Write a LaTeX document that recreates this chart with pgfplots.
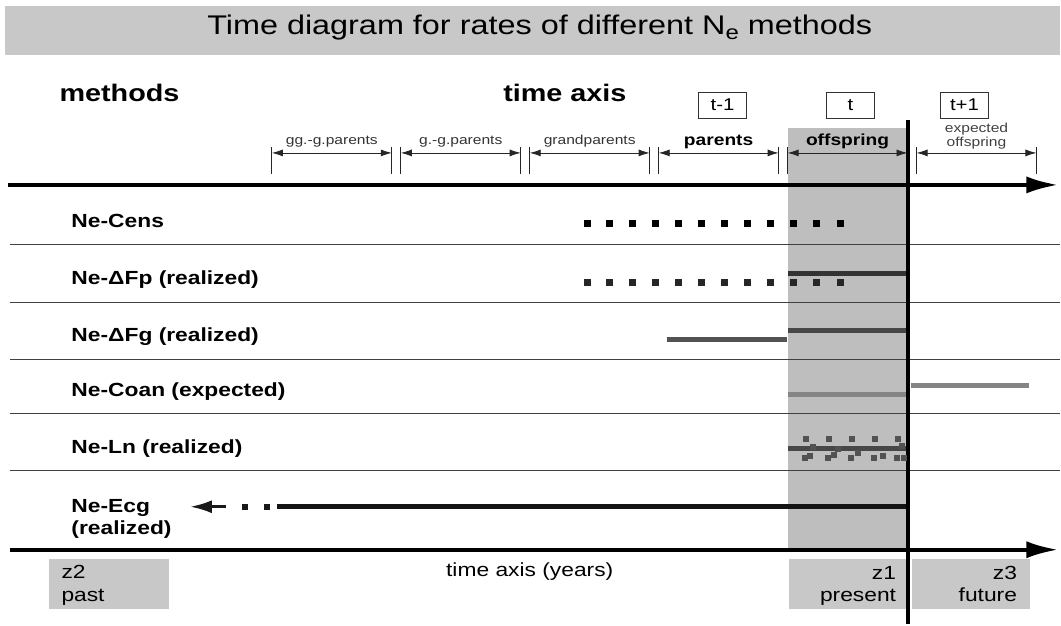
\documentclass[border=0pt]{standalone}
\usepackage{pgfplots}
\pgfplotsset{compat=1.18}
\usepackage{fontspec}
\setmainfont{Liberation Sans}[FakeStretch=1.2]
\usetikzlibrary{arrows.meta}
\definecolor{band}{HTML}{C8C8C8}
\definecolor{offgray}{HTML}{BEBEBE}
\newcommand{\fs}[1]{\fontsize{#1}{#1}\selectfont}
\tikzset{
  gbar/.style={line width=0.8pt, black!85},
  garr/.style={line width=0.8pt, black!85, {Latex[length=11pt,width=7pt]}-{Latex[length=11pt,width=7pt]}},
  tbox/.style={draw=black!80, line width=0.8pt, minimum width=48pt, minimum height=26pt, inner sep=0pt, font=\fs{17}},
  sep/.style={line width=1.1pt, black!75},
  rowlab/.style={anchor=base west, font=\bfseries\fs{19}},
}

\begin{document}
\begin{tikzpicture}
\begin{axis}[
  x=1pt, y=1pt, y dir=reverse,
  xmin=0, xmax=1061, ymin=0, ymax=624,
  scale only axis, hide axis, clip=false,
]
\path (axis cs:0,0) rectangle (axis cs:1061,624);
% title band
\fill[band] (axis cs:5,6) rectangle (axis cs:1061,55);
\node[anchor=base, font=\fs{27}] at (axis cs:540,35)
  {Time diagram for rates of different N\raisebox{-0.35ex}{\fs{20}e} methods};
% present generation shading
\fill[offgray] (axis cs:788,128) rectangle (axis cs:908,550);
% headings
\node[anchor=base west, font=\bfseries\fs{24}] at (axis cs:56,102) {methods};
\node[anchor=base west, font=\bfseries\fs{24}] at (axis cs:500,102) {time axis};
\node[tbox] at (axis cs:723,105) {t-1};
\node[tbox] at (axis cs:851,105) {t};
\node[tbox] at (axis cs:965,105) {t+1};
% generation brackets
\draw[gbar] (axis cs:272,147) -- (axis cs:272,174);
\draw[gbar] (axis cs:392,147) -- (axis cs:392,174);
\draw[garr] (axis cs:272,153) -- (axis cs:392,153);
\draw[gbar] (axis cs:401,147) -- (axis cs:401,174);
\draw[gbar] (axis cs:521,147) -- (axis cs:521,174);
\draw[garr] (axis cs:401,153) -- (axis cs:521,153);
\draw[gbar] (axis cs:530,147) -- (axis cs:530,174);
\draw[gbar] (axis cs:650,147) -- (axis cs:650,174);
\draw[garr] (axis cs:530,153) -- (axis cs:650,153);
\draw[gbar] (axis cs:659,147) -- (axis cs:659,174);
\draw[gbar] (axis cs:779,147) -- (axis cs:779,174);
\draw[garr] (axis cs:659,153) -- (axis cs:779,153);
\draw[gbar] (axis cs:788,147) -- (axis cs:788,174);
\draw[garr] (axis cs:788,153) -- (axis cs:908,153);
\draw[gbar] (axis cs:917,147) -- (axis cs:917,174);
\draw[gbar] (axis cs:1037,147) -- (axis cs:1037,174);
\draw[garr] (axis cs:917,153) -- (axis cs:1037,153);
\node[anchor=base, font=\fs{13}, black!80] at (axis cs:332,145) {gg.-g.parents};
\node[anchor=base, font=\fs{13}, black!80] at (axis cs:461,145) {g.-g.parents};
\node[anchor=base, font=\fs{13}, black!80] at (axis cs:590,145) {grandparents};
\node[anchor=base, font=\bfseries\fs{16}] at (axis cs:719,146) {parents};
\node[anchor=base, font=\bfseries\fs{16}] at (axis cs:848,146) {offspring};
\node[anchor=base, font=\fs{13}, black!75] at (axis cs:977,133) {expected};
\node[anchor=base, font=\fs{13}, black!75] at (axis cs:977,147) {offspring};
% time axes
\draw[line width=4pt, -{Latex[length=32pt,width=17pt]}] (axis cs:8,185) -- (axis cs:1059,185);
\draw[line width=4pt, -{Latex[length=32pt,width=17pt]}] (axis cs:10,550) -- (axis cs:1059,550);
% row separators
\draw[sep] (axis cs:10,245) -- (axis cs:1061,245);
\draw[sep] (axis cs:10,303) -- (axis cs:1061,303);
\draw[sep] (axis cs:10,360) -- (axis cs:1061,360);
\draw[sep] (axis cs:10,414) -- (axis cs:1061,414);
\draw[sep] (axis cs:10,471) -- (axis cs:1061,471);
% row labels
\node[rowlab] at (axis cs:68,228) {Ne-Cens};
\node[rowlab] at (axis cs:68,285) {Ne-ΔFp (realized)};
\node[rowlab] at (axis cs:68,342) {Ne-ΔFg (realized)};
\node[rowlab] at (axis cs:68,397) {Ne-Coan (expected)};
\node[rowlab] at (axis cs:68,454) {Ne-Ln (realized)};
\node[rowlab] at (axis cs:68,513) {Ne-Ecg};
\node[rowlab] at (axis cs:68,535) {(realized)};

% Ne-Cens
\addplot[only marks, mark=square*, mark size=3pt, black] coordinates {
  (587,223) (610,223) (633,223) (656,223) (679,223) (702,223)
  (725,223) (748,223) (771,223) (794,223) (817,223) (841,223)};
% Ne-dFp
\addplot[only marks, mark=square*, mark size=3pt, black!85] coordinates {
  (587,282) (610,282) (633,282) (656,282) (679,282) (702,282)
  (725,282) (748,282) (771,282) (794,282) (817,282) (841,282)};
\addplot[line width=5pt, black!80] coordinates {(788,274) (908,274)};
% Ne-dFg
\addplot[line width=5pt, black!72] coordinates {(788,331) (908,331)};
\addplot[line width=5pt, black!68] coordinates {(667,340) (787,340)};
% Ne-Coan
\addplot[line width=5pt, black!48] coordinates {(788,395) (908,395)};
\addplot[line width=5pt, black!48] coordinates {(911,386) (1030,386)};
% Ne-Ln
\addplot[line width=5pt, black!72] coordinates {(788,449) (908,449)};
\addplot[only marks, mark=square*, mark size=2.6pt, black!68] coordinates {
  (806,439) (829,439) (852,439) (875,439) (898,439)
  (805,458) (828,458) (851,458) (874,458) (897,458)};
\addplot[only marks, mark=square*, mark size=2.2pt, black!68] coordinates {
  (810,456) (834,455) (858,453) (883,456) (904,458)
  (813,447) (838,449) (902,446)};
% Ne-Ecg
\addplot[line width=5pt, black!92] coordinates {(277,507) (908,507)};
\addplot[only marks, mark=square*, mark size=2.6pt, black!90] coordinates {(245,507) (267,507)};
\addplot[line width=3pt, black!90, -{Latex[length=22pt,width=13pt]}] coordinates {(226,507) (190,507)};

% present marker
\draw[line width=4pt] (axis cs:908,120) -- (axis cs:908,624);
% zone boxes
\fill[band] (axis cs:49,559) rectangle (axis cs:169,609);
\fill[band] (axis cs:789,559) rectangle (axis cs:906,609);
\fill[band] (axis cs:912,559) rectangle (axis cs:1031,609);
\draw[line width=4pt] (axis cs:908,555) -- (axis cs:908,624);
\node[anchor=base west, font=\fs{19}] at (axis cs:58,579) {z2};
\node[anchor=base west, font=\fs{19}] at (axis cs:58,602) {past};
\node[anchor=base east, font=\fs{19}] at (axis cs:900,580) {z1};
\node[anchor=base east, font=\fs{19}] at (axis cs:900,602) {present};
\node[anchor=base east, font=\fs{19}] at (axis cs:1021,580) {z3};
\node[anchor=base east, font=\fs{19}] at (axis cs:1021,602) {future};
\node[anchor=base, font=\fs{19}] at (axis cs:530,577) {time axis (years)};
\end{axis}
\end{tikzpicture}
\end{document}
